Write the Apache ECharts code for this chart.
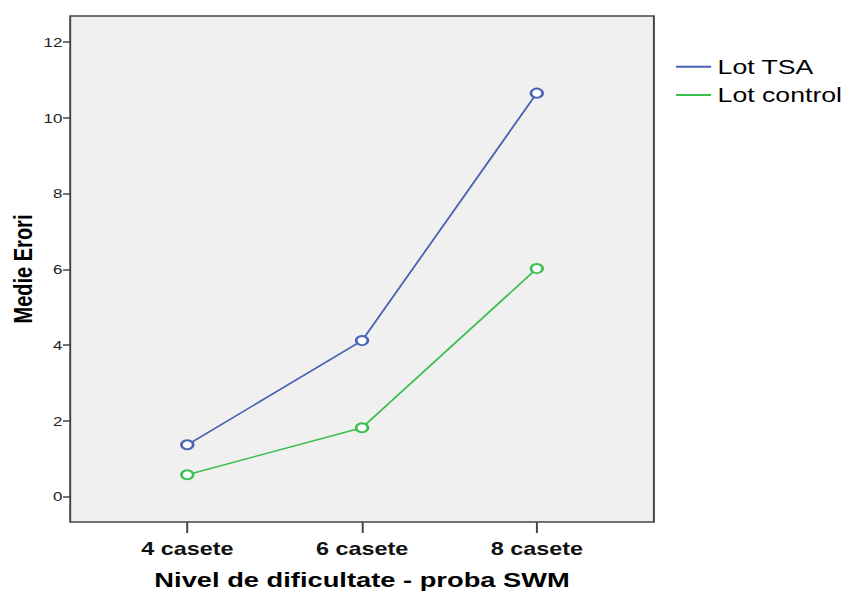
<html>
<head>
    <title>chart</title>
    <script src="https://cdn.jsdelivr.net/npm/echarts@6/dist/echarts.min.js"></script>
</head>
<body style="margin:0;background:#fff;overflow:hidden">
    <!-- the reference picture is stretched sideways, so the chart is drawn narrow and scaled -->
    <div id="chart" style="width:651px;height:594px;transform:scaleX(1.3);transform-origin:0 0;"></div>
    <script>
        var categories = ["4 casete", "6 casete", "8 casete"];
        var seriesNames = ["Lot TSA", "Lot control"];
        var tsaValues = [1.37, 4.12, 10.65];
        var controlValues = [0.58, 1.82, 6.02];
        var yTicks = [0, 2, 4, 6, 8, 10, 12];

        function toPoints(vals) {
            return vals.map(function (v, i) { return [i + 1, v]; });
        }

        var chart = echarts.init(document.getElementById('chart'), null, { renderer: 'svg' });
        var option = {
            animation: false,
            backgroundColor: '#ffffff',
            grid: {
                left: 54, right: 148, top: 16, bottom: 72,
                outerBoundsMode: 'none',
                show: true, backgroundColor: '#f0f0f0',
                borderColor: '#444', borderWidth: 1.5
            },
            legend: {
                orient: 'vertical', left: 520, top: 49, padding: 0,
                itemWidth: 27, itemHeight: 2, itemGap: -7,
                icon: 'rect',
                textStyle: { fontFamily: 'Liberation Sans', fontSize: 20.5, lineHeight: 21, color: '#000', padding: 0 },
                data: seriesNames
            },
            xAxis: {
                type: 'value', min: 0.33, max: 3.67,
                name: 'Nivel de dificultate - proba SWM',
                nameLocation: 'middle', nameGap: 40, nameMoveOverlap: false,
                nameTextStyle: { fontFamily: 'Liberation Sans', fontSize: 21, fontWeight: 'bold', color: '#000' },
                splitLine: { show: false },
                axisLine: { show: false, onZero: false },
                axisTick: { show: true, length: 11, lineStyle: { color: '#444', width: 1.5 }, customValues: [1, 2, 3] },
                axisLabel: {
                    customValues: [1, 2, 3], margin: 11,
                    fontFamily: 'Liberation Sans', fontSize: 18, fontWeight: 'bold', color: '#111',
                    formatter: function (v) { return categories[Math.round(v) - 1]; }
                }
            },
            yAxis: {
                type: 'value', min: -0.667, max: 12.686,
                name: 'Medie Erori',
                nameLocation: 'middle', nameGap: 19, nameMoveOverlap: false,
                nameTextStyle: { fontFamily: 'Liberation Sans', fontSize: 20, fontWeight: 'bold', color: '#000' },
                splitLine: { show: false },
                axisLine: { show: false, onZero: false },
                axisTick: { show: true, length: 5.5, lineStyle: { color: '#444', width: 1.5 }, customValues: yTicks },
                axisLabel: {
                    customValues: yTicks, margin: 6,
                    fontFamily: 'Liberation Sans', fontSize: 13, color: '#222'
                }
            },
            series: [{
                name: seriesNames[0], type: 'line',
                data: toPoints(tsaValues),
                symbol: 'emptyCircle', symbolSize: 9,
                color: '#4a62b4',
                lineStyle: { width: 1.5 },
                itemStyle: { borderWidth: 1.2 }
            }, {
                name: seriesNames[1], type: 'line',
                data: toPoints(controlValues),
                symbol: 'emptyCircle', symbolSize: 9,
                color: '#3cbf4e',
                lineStyle: { width: 1.5 },
                itemStyle: { borderWidth: 1.2 }
            }]
        };
        chart.setOption(option);
    </script>
</body>
</html>
